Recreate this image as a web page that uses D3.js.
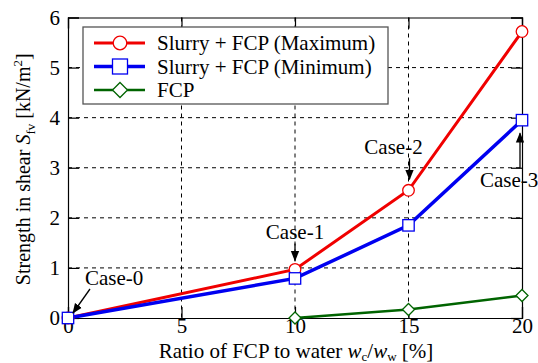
<!DOCTYPE html>
<html>
<head>
<meta charset="utf-8">
<script src="https://cdn.jsdelivr.net/npm/d3@7"></script>
<style>
  body { margin: 0; background: #fff; }
</style>
</head>
<body>
<div id="chart"></div>
<script>
// data
const ratios = [0, 10, 15, 20];
const maxStrength = [0, 0.97, 2.55, 5.72];
const minStrength = [0, 0.79, 1.85, 3.95];
const fcpRatios = [10, 15, 20];
const fcpStrength = [0, 0.17, 0.45];
const xTicks = [0, 5, 10, 15, 20];
const yTicks = [0, 1, 2, 3, 4, 5, 6];
const seriesNames = ['Slurry + FCP (Maximum)', 'Slurry + FCP (Minimum)', 'FCP'];
const cases = [
  { label: 'Case-0', x: 0, y: 0 },
  { label: 'Case-1', x: 10, y: 0.97 },
  { label: 'Case-2', x: 15, y: 2.55 },
  { label: 'Case-3', x: 20, y: 3.95 },
];

const FONT = '"Liberation Serif", "Times New Roman", "DejaVu Serif", serif';
const width = 538;
const height = 363;
const margin = { top: 17.5, right: 16, bottom: 45, left: 68 };
const contentWidth = width - margin.left - margin.right;
const contentHeight = height - margin.top - margin.bottom;

const root = d3.select('#chart')
  .append('svg')
  .attr('width', width)
  .attr('height', height)
  .attr('font-family', FONT);
const svg = root.append('g')
  .attr('transform', `translate(${margin.left},${margin.top})`);

const x = d3.scaleLinear().domain([0, 20]).range([0, contentWidth]);
const y = d3.scaleLinear().domain([0, 6]).range([contentHeight, 0]);

// dashed grid
svg.append('g')
  .selectAll('line')
  .data(yTicks.slice(1, -1))
  .join('line')
  .attr('x1', 0).attr('x2', contentWidth)
  .attr('y1', (d) => y(d)).attr('y2', (d) => y(d))
  .attr('stroke', '#000').attr('stroke-width', 1).attr('stroke-dasharray', '4,4');
svg.append('g')
  .selectAll('line')
  .data(xTicks.slice(1, -1))
  .join('line')
  .attr('y1', 0).attr('y2', contentHeight)
  .attr('x1', (d) => x(d)).attr('x2', (d) => x(d))
  .attr('stroke', '#000').attr('stroke-width', 1).attr('stroke-dasharray', '4,4');

// axes with inward ticks, mirrored on top and right
const tk = 11;
svg.append('g')
  .attr('transform', `translate(0,${contentHeight})`)
  .call(d3.axisBottom(x).tickValues(xTicks).tickSize(-tk).tickPadding(0).tickFormat(d3.format('d')))
  .call((g) => g.selectAll('text').attr('font-size', 21).attr('fill', '#000'));
svg.append('g')
  .call(d3.axisLeft(y).tickValues(yTicks).tickSize(-tk).tickPadding(8).tickFormat(d3.format('d')))
  .call((g) => g.selectAll('text').attr('font-size', 21).attr('fill', '#000'));
svg.append('g')
  .call(d3.axisTop(x).tickValues(xTicks).tickSize(-tk).tickFormat(''));
svg.append('g')
  .attr('transform', `translate(${contentWidth},0)`)
  .call(d3.axisRight(y).tickValues(yTicks).tickSize(-tk).tickFormat(''));
svg.selectAll('g').attr('font-family', FONT);
svg.selectAll('.domain').attr('stroke', '#000').attr('stroke-width', 1.2);
svg.selectAll('.tick line').attr('stroke', '#000').attr('stroke-width', 1.2);

// lines
const line = d3.line().x((d) => x(d[0])).y((d) => y(d[1]));
const series = [
  { name: seriesNames[0], color: '#f00000', width: 3, shape: 'circle', pts: d3.zip(ratios, maxStrength) },
  { name: seriesNames[1], color: '#0000f0', width: 3.5, shape: 'square', pts: d3.zip(ratios, minStrength) },
  { name: seriesNames[2], color: '#006400', width: 2.5, shape: 'diamond', pts: d3.zip(fcpRatios, fcpStrength) },
];

function marker(g, shape, color, r) {
  if (shape === 'circle') {
    g.append('circle').attr('r', r);
  } else if (shape === 'square') {
    g.append('rect').attr('x', -r).attr('y', -r).attr('width', 2 * r).attr('height', 2 * r);
  } else {
    g.append('path').attr('d', `M0,${-r}L${r},0L0,${r}L${-r},0Z`);
  }
  g.selectAll('*').attr('fill', '#fff').attr('stroke', color).attr('stroke-width', 1.3);
}
const plotSize = { circle: 5.8, square: 5.7, diamond: 6 };
const legendSize = { circle: 6.8, square: 7.5, diamond: 7.5 };

series.forEach((s) => {
  svg.append('path')
    .datum(s.pts)
    .attr('fill', 'none')
    .attr('stroke', s.color)
    .attr('stroke-width', s.width)
    .attr('d', line);
});
// blue squares drawn last so the one at the origin sits on top
[series[0], series[2], series[1]].forEach((s) => {
  s.pts.forEach((p) => {
    const g = svg.append('g').attr('transform', `translate(${x(p[0])},${y(p[1])})`);
    marker(g, s.shape, s.color, plotSize[s.shape]);
  });
});

// legend
const legend = svg.append('g').attr('transform', 'translate(15,9.5)');
legend.append('rect')
  .attr('width', 305).attr('height', 77)
  .attr('fill', '#fff').attr('stroke', '#555').attr('stroke-width', 1.3);
series.forEach((s, i) => {
  const row = legend.append('g').attr('transform', `translate(0,${16 + i * 23.5})`);
  row.append('line').attr('x1', 11).attr('x2', 62)
    .attr('stroke', s.color).attr('stroke-width', s.width);
  marker(row.append('g').attr('transform', 'translate(37,0)'), s.shape, s.color, legendSize[s.shape]);
  row.append('text').attr('x', 74).attr('y', 7)
    .attr('font-size', 21).attr('fill', '#000').text(s.name);
});

// case annotations
const caseLayout = {
  'Case-0': { tx: 17, ty: -33, anchor: 'start', x1: 22, y1: -29, x2: 5, y2: -5 },
  'Case-1': { tx: 0, ty: -30, anchor: 'middle', x1: 0, y1: -26, x2: 0, y2: -9 },
  'Case-2': { tx: -15, ty: -36, anchor: 'middle', x1: 1, y1: -32, x2: 1, y2: -11 },
  'Case-3': { tx: -42, ty: 67, anchor: 'start', x1: -2, y1: 48, x2: -2, y2: 13 },
};
svg.append('defs').append('marker')
  .attr('id', 'arrow')
  .attr('viewBox', '0 0 10 10')
  .attr('refX', 9).attr('refY', 5)
  .attr('markerWidth', 8).attr('markerHeight', 8)
  .attr('orient', 'auto')
  .append('path').attr('d', 'M0,1L10,5L0,9Z').attr('fill', '#000');
cases.forEach((c) => {
  const l = caseLayout[c.label];
  const cx = x(c.x);
  const cy = y(c.y);
  svg.append('line')
    .attr('x1', cx + l.x1).attr('y1', cy + l.y1)
    .attr('x2', cx + l.x2).attr('y2', cy + l.y2)
    .attr('stroke', '#000').attr('stroke-width', 1.3)
    .attr('marker-end', 'url(#arrow)');
  svg.append('text')
    .attr('x', cx + l.tx).attr('y', cy + l.ty)
    .attr('text-anchor', l.anchor)
    .attr('font-size', 21).attr('fill', '#000')
    .text(c.label);
});

// axis titles
const xTitle = svg.append('text')
  .attr('x', contentWidth / 2 + 1).attr('y', contentHeight + 40)
  .attr('text-anchor', 'middle').attr('font-size', 21).attr('fill', '#000');
xTitle.append('tspan').text('Ratio of FCP to water ');
xTitle.append('tspan').attr('font-style', 'italic').text('w');
xTitle.append('tspan').attr('font-size', 13).attr('dy', 3).text('c');
xTitle.append('tspan').attr('dy', -3).text('/');
xTitle.append('tspan').attr('font-style', 'italic').text('w');
xTitle.append('tspan').attr('font-size', 13).attr('dy', 3).text('w');
xTitle.append('tspan').attr('dy', -3).text(' [%]');

const yTitle = svg.append('text')
  .attr('transform', `translate(${-38},${contentHeight / 2 + 1.5}) rotate(-90)`)
  .attr('text-anchor', 'middle').attr('font-size', 20).attr('fill', '#000');
yTitle.append('tspan').text('Strength in shear ');
yTitle.append('tspan').attr('font-style', 'italic').text('S');
yTitle.append('tspan').attr('font-size', 13).attr('dy', 5).text('fv');
yTitle.append('tspan').attr('dy', -5).text(' [kN/m');
yTitle.append('tspan').attr('font-size', 13).attr('dy', -8).text('2');
yTitle.append('tspan').attr('dy', 8).text(']');
</script>
</body>
</html>
